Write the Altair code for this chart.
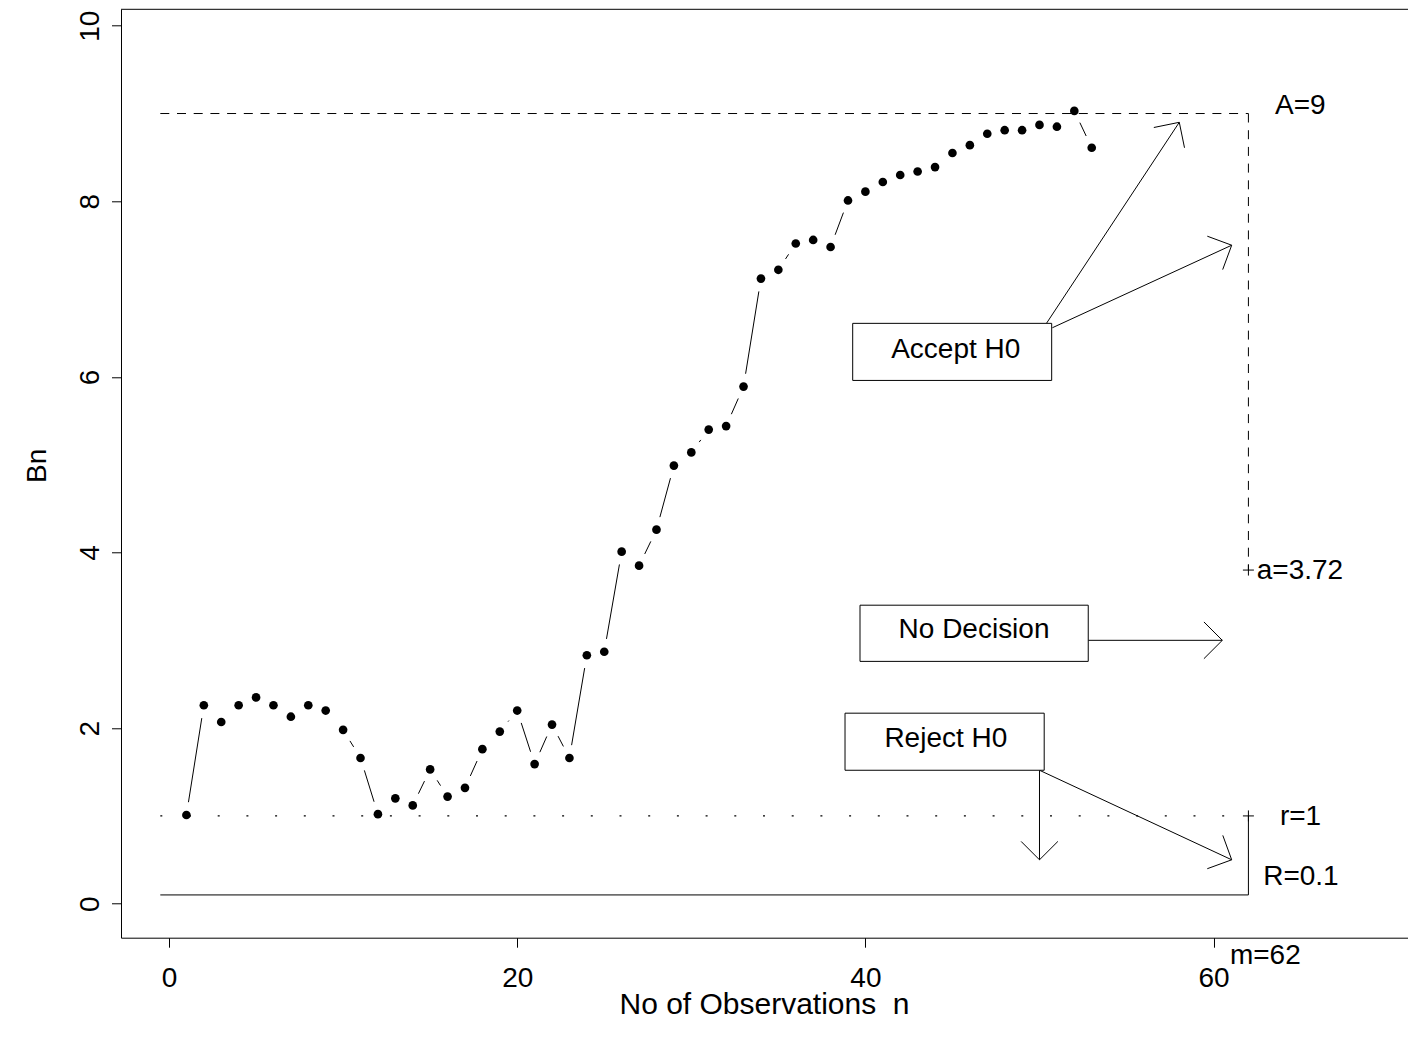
import math
import pandas as pd
import altair as alt

# ---------------- data ----------------
n_obs = list(range(1, 54))
bn = [1.01, 2.26, 2.07, 2.26, 2.35, 2.26, 2.13, 2.26, 2.20, 1.98, 1.66, 1.02,
      1.20, 1.12, 1.53, 1.22, 1.32, 1.76, 1.96, 2.20, 1.59, 2.04, 1.66,
      2.83, 2.87, 4.01, 3.85, 4.26, 4.99, 5.14, 5.40, 5.44, 5.89,
      7.12, 7.22, 7.52, 7.56, 7.48,
      8.01, 8.11, 8.22, 8.30, 8.34, 8.39, 8.55, 8.64, 8.77, 8.81, 8.81, 8.87, 8.85, 9.03, 8.61]

A_val = 9.0
a_val = 3.8
r_val = 1.0
R_val = 0.1
m_val = 62
line_start = -0.5

x_ticks = [0, 20, 40, 60]
y_ticks = [0, 2, 4, 6, 8, 10]

# annotation boxes: label, x0, x1, y0, y1, text x, text y
box_labels = ["Accept H0", "No Decision", "Reject H0"]
box_x0 = [39.27, 39.69, 38.83]
box_x1 = [50.70, 52.80, 50.27]
box_y0 = [5.96, 2.76, 1.52]
box_y1 = [6.61, 3.40, 2.17]
box_tx = [45.19, 46.24, 44.62]
box_ty = [6.31, 3.12, 1.88]

# arrows: start -> tip
arr_x0 = [50.40, 50.74, 52.80, 50.00, 50.00]
arr_y0 = [6.61, 6.56, 3.00, 1.52, 1.52]
arr_x1 = [58.03, 61.04, 60.50, 50.00, 61.04]
arr_y1 = [8.90, 7.50, 3.00, 0.50, 0.50]

# side labels
side_text = ["A=9", "a=3.72", "r=1", "R=0.1", "m=62"]
side_x = [63.53, 62.48, 63.81, 62.85, 60.94]
side_y = [9.085, 3.79, 0.993, 0.304, -0.60]

# ---------------- geometry ----------------
WIDTH = 1287
HEIGHT = 928.4
XMIN = -2.757
XMAX = XMIN + WIDTH / 17.41
YMIN, YMAX = -0.387, 10.187
KX = WIDTH / (XMAX - XMIN)
KY = HEIGHT / (YMAX - YMIN)
FONT = "Liberation Sans"
FS = 28

xs = alt.Scale(domain=[XMIN, XMAX], nice=False, zero=False)
ys = alt.Scale(domain=[YMIN, YMAX], nice=False, zero=False)
xaxis = alt.Axis(title="No of Observations \u00a0n", values=x_ticks, grid=False,
                 tickSize=9.5, labelPadding=39.5, labelBaseline="alphabetic",
                 labelFont=FONT, labelFontSize=FS, labelColor="black",
                 titleFont=FONT, titleFontSize=30, titleFontWeight="normal",
                 titleColor="black", titleBaseline="alphabetic", titleY=75.5,
                 titleX=643,
                 domainColor="black", tickColor="black", labelFlush=False,
                 labelOverlap=False)
yaxis = alt.Axis(title="Bn", values=y_ticks, grid=False,
                 tickSize=9.5, labelPadding=13, labelAngle=270, labelAlign="center",
                 labelBaseline="alphabetic",
                 labelFont=FONT, labelFontSize=FS, labelColor="black",
                 titleFont=FONT, titleFontSize=FS, titleFontWeight="normal",
                 titleColor="black", titleAngle=270, titleAlign="center",
                 titleBaseline="alphabetic", titleX=-76, titleY=456,
                 domainColor="black", tickColor="black", labelFlush=False,
                 labelOverlap=False)


def X(f):
    return alt.X(f, type="quantitative", scale=xs, axis=xaxis)


def Y(f):
    return alt.Y(f, type="quantitative", scale=ys, axis=yaxis)


def to_px(x, y):
    return x * KX, y * KY


def to_data(px, py):
    return px / KX, py / KY


# data line segments with gaps around the points (type "b")
GAP = 13.0
seg_rows = []
for i in range(len(n_obs) - 1):
    p0 = to_px(n_obs[i], bn[i])
    p1 = to_px(n_obs[i + 1], bn[i + 1])
    dx, dy = p1[0] - p0[0], p1[1] - p0[1]
    L = math.hypot(dx, dy)
    if L > 2 * GAP:
        ux, uy = dx / L, dy / L
        s = to_data(p0[0] + GAP * ux, p0[1] + GAP * uy)
        e = to_data(p1[0] - GAP * ux, p1[1] - GAP * uy)
        seg_rows.append({"x": s[0], "y": s[1], "x2": e[0], "y2": e[1]})
seg_df = pd.DataFrame(seg_rows)

# arrow shafts and heads
HEAD_L = 26.0
HEAD_ANG = math.radians(45)
arrow_rows = []
for x0, y0, x1, y1 in zip(arr_x0, arr_y0, arr_x1, arr_y1):
    arrow_rows.append({"x": x0, "y": y0, "x2": x1, "y2": y1})
    p0 = to_px(x0, y0)
    p1 = to_px(x1, y1)
    dx, dy = p1[0] - p0[0], p1[1] - p0[1]
    L = math.hypot(dx, dy)
    bx, by = -dx / L, -dy / L
    for sgn in (1, -1):
        a = sgn * HEAD_ANG
        rx = bx * math.cos(a) - by * math.sin(a)
        ry = bx * math.sin(a) + by * math.cos(a)
        e = to_data(p1[0] + HEAD_L * rx, p1[1] + HEAD_L * ry)
        arrow_rows.append({"x": x1, "y": y1, "x2": e[0], "y2": e[1]})
arrow_df = pd.DataFrame(arrow_rows)

pts_df = pd.DataFrame({"n": n_obs, "bn": bn})
frame_df = pd.DataFrame({"x": [XMIN], "x2": [XMAX], "y": [YMAX]})
A_df = pd.DataFrame({"x": [line_start], "x2": [m_val], "y": [A_val]})
r_df = pd.DataFrame({"x": [line_start], "x2": [m_val], "y": [r_val]})
R_df = pd.DataFrame({"x": [line_start], "x2": [m_val], "y": [R_val]})
vdash_df = pd.DataFrame({"x": [m_val], "y": [A_val], "y2": [a_val]})
vsolid_df = pd.DataFrame({"x": [m_val], "y": [r_val], "y2": [R_val]})
plus_df = pd.DataFrame({"x": [m_val, m_val], "y": [a_val, r_val]})
box_df = pd.DataFrame({"label": box_labels, "x": box_x0, "x2": box_x1,
                       "y": box_y0, "y2": box_y1, "tx": box_tx, "ty": box_ty})
side_df = pd.DataFrame({"label": side_text, "x": side_x, "y": side_y})

layers = []
layers.append(alt.Chart(frame_df).mark_rule(color="black", strokeWidth=1).encode(
    x=X("x"), x2="x2", y=Y("y")))
layers.append(alt.Chart(A_df).mark_rule(color="black", strokeWidth=1, strokeDash=[9, 7.7]).encode(
    x=X("x"), x2="x2", y=Y("y")))
layers.append(alt.Chart(r_df).mark_rule(color="black", strokeWidth=1.2, strokeDash=[2, 26.7]).encode(
    x=X("x"), x2="x2", y=Y("y")))
layers.append(alt.Chart(R_df).mark_rule(color="black", strokeWidth=1).encode(
    x=X("x"), x2="x2", y=Y("y")))
layers.append(alt.Chart(vdash_df).mark_rule(color="black", strokeWidth=1, strokeDash=[9, 7.7]).encode(
    x=X("x"), y=Y("y"), y2="y2"))
layers.append(alt.Chart(vsolid_df).mark_rule(color="black", strokeWidth=1).encode(
    x=X("x"), y=Y("y"), y2="y2"))
layers.append(alt.Chart(plus_df).mark_point(shape="M-1,0L1,0M0,-1L0,1", size=121, filled=False,
                                             stroke="black", strokeWidth=1, opacity=1).encode(
    x=X("x"), y=Y("y")))
layers.append(alt.Chart(seg_df).mark_rule(color="black", strokeWidth=1).encode(
    x=X("x"), y=Y("y"), x2="x2", y2="y2"))
layers.append(alt.Chart(pts_df).mark_circle(size=75, color="black", opacity=1).encode(
    x=X("n"), y=Y("bn")))
layers.append(alt.Chart(arrow_df).mark_rule(color="black", strokeWidth=1).encode(
    x=X("x"), y=Y("y"), x2="x2", y2="y2"))
layers.append(alt.Chart(box_df).mark_rect(fill="white", stroke="black", strokeWidth=1).encode(
    x=X("x"), x2="x2", y=Y("y"), y2="y2"))
layers.append(alt.Chart(box_df).mark_text(font=FONT, fontSize=FS, color="black",
                                          align="center", baseline="middle").encode(
    x=X("tx"), y=Y("ty"), text="label"))
layers.append(alt.Chart(side_df).mark_text(font=FONT, fontSize=FS, color="black",
                                           align="left", baseline="middle").encode(
    x=X("x"), y=Y("y"), text="label"))

chart = alt.layer(*layers).properties(
    width=WIDTH, height=HEIGHT,
    autosize=alt.AutoSizeParams(type="none"),
    padding={"left": 113, "top": 1.3, "right": 0, "bottom": 88},
    background="white",
).configure_view(strokeWidth=0)

chart.save("out.html", embed_options={"renderer": "svg", "actions": False})
